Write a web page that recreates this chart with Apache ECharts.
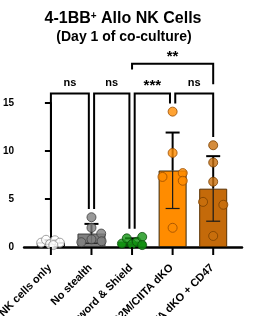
<!DOCTYPE html>
<html>
<head>
<meta charset="utf-8">
<script src="https://cdn.jsdelivr.net/npm/echarts@6/dist/echarts.min.js"></script>
<style>
  html, body { margin: 0; padding: 0; background: #fff; }
  #chart { width: 263px; height: 316px; }
</style>
</head>
<body>
<div id="chart"></div>
<script>
// values
var categories = ['NK cells only', 'No stealth', 'Sword & Shield', 'B2M/CIITA dKO', 'B2M/CIITA dKO + CD47'];
var nkOnly = [0.45, 0.75, 0.3, 0.7, 0.45, 0.2];
var noStealth = [3.1, 2.0, 1.4, 0.5, 0.8, 0.6];
var swordShield = [0.35, 0.9, 0.3, 0.55, 1.05, 0.2];
var dko = [14.1, 9.8, 7.7, 7.3, 6.9, 2.0];
var dkoCd47 = [10.6, 8.8, 6.8, 4.7, 4.4, 1.15];
var yTicks = [0, 5, 10, 15];
var comparisons = [[0, 1], [1, 2], [2, 3], [3, 4], [2, 4]];
var sigLabels = ['ns', 'ns', '***', 'ns', '**'];

var groups = [nkOnly, noStealth, swordShield, dko, dkoCd47];

// layout / style
var jitter = [
    [-0.24, -0.12, -0.02, 0.1, 0.22, 0.06],
    [0, 0, 0.24, -0.25, 0, 0.25],
    [-0.25, -0.13, 0, 0.12, 0.25, 0.25],
    [0, 0, 0.25, -0.25, 0.25, 0],
    [0, 0, 0, -0.25, 0.25, 0]
];
var barColors = ['#ffffff', '#808080', '#128c12', '#ff8c00', '#c46a0a'];
var barBorders = ['#000000', '#3a3a3a', '#0a4a0a', '#3a2a10', '#5a3000'];
var dotColors = ['#ffffff', '#7f7f7f', '#139313', '#ff8c00', '#c96f0c'];
var dotBorders = ['#8c8c8c', '#404040', '#0b4f0b', '#9a4c00', '#7a4000'];
var font = "'Liberation Sans', Arial, sans-serif";

function mean(a) {
    var s = 0;
    a.forEach(function (v) { s += v; });
    return s / a.length;
}
function sd(a) {
    var m = mean(a), s = 0;
    a.forEach(function (v) { s += (v - m) * (v - m); });
    return Math.sqrt(s / (a.length - 1));
}

var stats = groups.map(function (g, i) { return [i, mean(g), sd(g)]; });
var groupTop = groups.map(function (g, i) {
    return Math.max(Math.max.apply(null, g), stats[i][1] + stats[i][2]) + 0.85;
});

var lowerTop = 16.0, upperTop = 19.1;

var chart = echarts.init(document.getElementById('chart'));

var series = [];

series.push({
    type: 'bar',
    barWidth: 28,
    z: 2,
    data: stats.map(function (s, i) {
        return {
            value: [s[0], s[1]],
            itemStyle: { color: barColors[i], borderColor: barBorders[i], borderWidth: 1 }
        };
    })
});

// mean +/- SD
series.push({
    type: 'custom',
    z: 3,
    clip: false,
    data: stats,
    renderItem: function (params, api) {
        var x = api.value(0), m = api.value(1), s = api.value(2);
        var top = api.coord([x, m + s]);
        var mid = api.coord([x, m]);
        var bot = api.coord([x, Math.max(0, m - s)]);
        var st = { stroke: '#000', lineWidth: 2 };
        var inner = { stroke: '#1a1a1a', lineWidth: 1.2 };
        return {
            type: 'group',
            children: [
                { type: 'line', shape: { x1: top[0], y1: top[1], x2: mid[0], y2: mid[1] }, style: st },
                { type: 'line', shape: { x1: mid[0], y1: mid[1], x2: bot[0], y2: bot[1] }, style: inner },
                { type: 'line', shape: { x1: top[0] - 7, y1: top[1], x2: top[0] + 7, y2: top[1] }, style: st },
                { type: 'line', shape: { x1: bot[0] - 7, y1: bot[1], x2: bot[0] + 7, y2: bot[1] }, style: inner }
            ]
        };
    }
});

groups.forEach(function (g, i) {
    series.push({
        type: 'scatter',
        z: 4,
        symbolSize: 9,
        clip: false,
        itemStyle: { color: dotColors[i], borderColor: dotBorders[i], borderWidth: 1 },
        data: g.map(function (v, k) { return [i + jitter[i][k], v]; })
    });
});

// significance brackets
series.push({
    type: 'custom',
    z: 5,
    clip: false,
    data: [[0, 0]],
    renderItem: function (params, api) {
        var children = [];
        var st = { stroke: '#000', lineWidth: 2, fill: null };
        comparisons.forEach(function (c, k) {
            var a = c[0], b = c[1];
            var pts, ty;
            if (b - a === 1) {
                var xl = a === 0 ? a : a + 0.065;
                var xr = b === 4 ? b : b - 0.065;
                pts = [
                    api.coord([xl, groupTop[a]]), api.coord([xl, lowerTop]),
                    api.coord([xr, lowerTop]), api.coord([xr, groupTop[b]])
                ];
                ty = lowerTop + 1.05;
            } else {
                pts = [
                    api.coord([a, upperTop - 0.6]), api.coord([a, upperTop]),
                    api.coord([b, upperTop]), api.coord([b, lowerTop + 0.95])
                ];
                ty = upperTop + 1.0;
            }
            children.push({ type: 'polyline', shape: { points: pts }, style: st });
            var tp = api.coord([(pts[1][0] + pts[2][0]) / 2, ty]);
            var isStar = sigLabels[k].charAt(0) === '*';
            children.push({
                type: 'text',
                x: (pts[1][0] + pts[2][0]) / 2,
                y: tp[1] + (isStar ? 3 : 0),
                style: {
                    text: sigLabels[k],
                    font: 'bold ' + (isStar ? 15 : 11) + 'px ' + font,
                    fill: '#000',
                    textAlign: 'center',
                    textVerticalAlign: 'middle'
                }
            });
        });
        return { type: 'group', children: children };
    }
});

// category ticks and rotated labels
series.push({
    type: 'custom',
    z: 5,
    clip: false,
    data: categories.map(function (c, i) { return [i, 0]; }),
    renderItem: function (params, api) {
        var p = api.coord([api.value(0), 0]);
        return {
            type: 'group',
            children: [
                {
                    type: 'line',
                    shape: { x1: p[0], y1: p[1], x2: p[0], y2: p[1] + 8 },
                    style: { stroke: '#000', lineWidth: 2 }
                },
                {
                    type: 'text',
                    x: p[0] - 1,
                    y: p[1] + 19,
                    rotation: Math.PI / 4,
                    style: {
                        text: categories[params.dataIndex],
                        font: 'bold 11px ' + font,
                        fill: '#000',
                        textAlign: 'right',
                        textVerticalAlign: 'middle'
                    }
                }
            ]
        };
    }
});

var option = {
    animation: false,
    backgroundColor: '#ffffff',
    graphic: [
        {
            type: 'text', x: 123, y: 19,
            style: {
                text: '4-1BB{s|+} Allo NK Cells',
                font: 'bold 16px ' + font,
                fill: '#000',
                textAlign: 'center',
                textVerticalAlign: 'middle',
                rich: { s: { font: 'bold 10px ' + font, fill: '#000', verticalAlign: 'top' } }
            }
        },
        {
            type: 'text', x: 124, y: 37,
            style: {
                text: '(Day 1 of co-culture)',
                font: 'bold 14px ' + font,
                fill: '#000',
                textAlign: 'center',
                textVerticalAlign: 'middle'
            }
        }
    ],
    grid: { left: 23, right: 21, top: 103, bottom: 69 },
    xAxis: {
        type: 'value', min: -0.66, max: 4.71,
        axisLine: { show: true, onZero: false, lineStyle: { color: '#000', width: 2.5 } },
        axisTick: { show: false }, axisLabel: { show: false }, splitLine: { show: false }
    },
    yAxis: {
        type: 'value', min: yTicks[0], max: yTicks[yTicks.length - 1], interval: yTicks[1] - yTicks[0],
        axisLine: { show: true, lineStyle: { color: '#000', width: 2 } },
        axisTick: { show: true, length: 6, lineStyle: { color: '#000', width: 2 } },
        axisLabel: { color: '#000', fontSize: 10, fontWeight: 'bold', fontFamily: font, margin: 10 },
        splitLine: { show: false }
    },
    series: series
};

chart.setOption(option);
</script>
</body>
</html>
